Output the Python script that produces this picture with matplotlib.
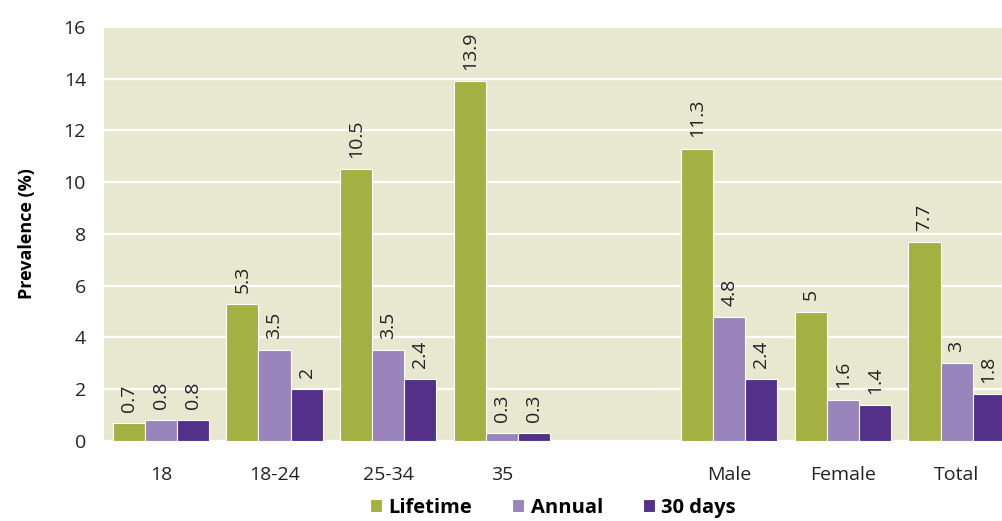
import matplotlib.pyplot as plt
import numpy as np

plt.rcParams['font.family'] = ['Open Sans', 'DejaVu Sans']

groups = ["18", "18-24", "25-34", "35", "", "Male", "Female", "Total"]
lifetime = [0.7, 5.3, 10.5, 13.9, np.nan, 11.3, 5, 7.7]
annual = [0.8, 3.5, 3.5, 0.3, np.nan, 4.8, 1.6, 3]
days30 = [0.8, 2, 2.4, 0.3, np.nan, 2.4, 1.4, 1.8]

series = [("Lifetime", lifetime, "#a3b143"),
          ("Annual", annual, "#9985bb"),
          ("30 days", days30, "#533189")]

fig = plt.figure(figsize=(10.02, 5.21), dpi=100)
ax = fig.add_axes([0.1038, 0.1536, 0.8962, 0.7946])
ax.set_facecolor("#e8e8d0")

x = np.arange(len(groups))
w = 0.282
for i, (name, vals, col) in enumerate(series):
    pos = x + (i - 1) * w
    ax.bar(pos, vals, width=w, color=col, edgecolor="white",
           linewidth=0.8, label=name, zorder=3)
    for xp, v in zip(pos, vals):
        if np.isnan(v):
            continue
        ax.annotate(f"{v:g}", (xp, v), xytext=(0, 8), textcoords="offset points",
                    rotation=90, ha="center", va="bottom", fontsize=14,
                    color="#222222")

ax.set_ylim(0, 16)
ax.set_yticks(range(0, 17, 2))
ax.set_xlim(-0.5, 7.4)
ax.set_xticks(x)
ax.set_xticklabels(groups)
ax.yaxis.grid(True, color="white", linewidth=1.6, zorder=0)
ax.set_axisbelow(True)
for s in ax.spines.values():
    s.set_visible(False)
ax.tick_params(axis="both", length=0, labelsize=14, colors="#222222")
ax.tick_params(axis="x", pad=18)
ax.tick_params(axis="y", pad=13)
ax.set_ylabel("Prevalence (%)", fontsize=13, fontweight="bold", labelpad=20)

ax.legend(loc="lower center", bbox_to_anchor=(0.5, -0.205), ncol=3,
          frameon=False, prop={"weight": "bold", "size": 14.5},
          handlelength=0.6, handleheight=0.6, handletextpad=0.3,
          columnspacing=2.0, borderaxespad=0)

fig.savefig("out.png", dpi=100)
